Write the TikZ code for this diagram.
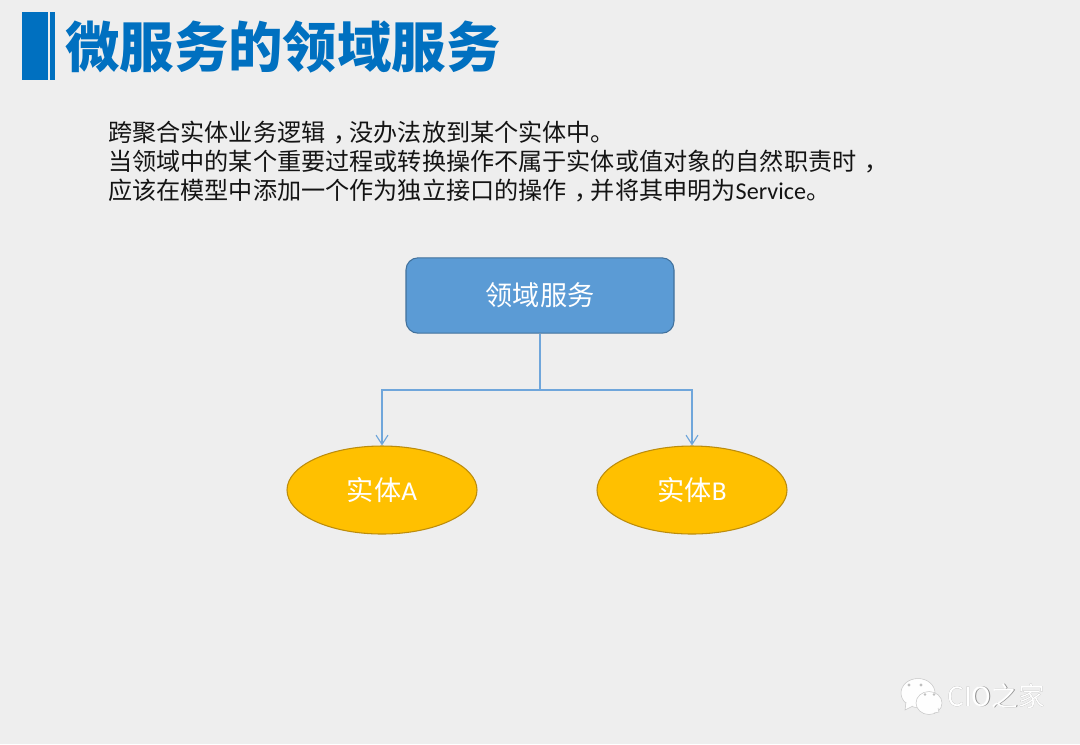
\documentclass[tikz,border=0pt]{standalone}
\usepackage{fontspec}
\usetikzlibrary{shapes.geometric,arrows.meta,calc}
\setmainfont{Noto Sans CJK SC}
\newfontfamily\cjkb{Noto Sans CJK SC Black}
\newfontfamily\lat{Carlito}
\newcommand{\fwc}{\kern.33em\symbol{"FF0C}\kern-.33em}
\definecolor{bgc}{HTML}{EEEEEE}
\definecolor{titleblue}{HTML}{0070C0}
\definecolor{boxblue}{HTML}{5B9BD5}
\definecolor{boxedge}{HTML}{41719C}
\definecolor{gold}{HTML}{FFC000}
\definecolor{goldedge}{HTML}{BC8C0C}
\definecolor{linkblue}{HTML}{6FA6DB}
\tikzset{
  x=0.75pt,y=-0.75pt,
  titletext/.style={anchor=west,inner sep=0pt,text=titleblue,font=\cjkb\fontsize{40.8pt}{44pt}\selectfont},
  bodytext/.style={anchor=north west,inner sep=0pt,align=left,text=black!92,font=\fontsize{18.1pt}{21.6pt}\selectfont},
  svcbox/.style={draw=boxedge,line width=0.8pt,fill=boxblue,rounded corners=9pt,minimum width=201pt,minimum height=56.5pt,inner sep=0pt,text=white,font=\fontsize{20.4pt}{24pt}\selectfont},
  entity/.style={ellipse,draw=goldedge,line width=0.8pt,fill=gold,minimum width=142.5pt,minimum height=66pt,inner sep=0pt,text=white,font=\fontsize{20.4pt}{24pt}\selectfont},
  link/.style={draw=linkblue,line width=0.85pt},
  arrowlink/.style={link,-{Straight Barb[length=7pt,width=9pt,line width=0.85pt]}},
  bubble/.style={fill=white!97!bgc,draw=black!22,line width=0.4pt},
  markstyle/.style={inner sep=0pt,font=\fontsize{20pt}{22pt}\selectfont}
}
\begin{document}
\begin{tikzpicture}
\useasboundingbox (0,0) rectangle (1080,744);
\fill[bgc] (0,0) rectangle (1080,744);
% title bar
\fill[titleblue] (22,12) rectangle (48,80);
\fill[titleblue] (49.5,12) rectangle (55,80);
\node[titletext] (title) at (65,47) {微服务的领域服务};
% body
\node[bodytext] (body) at (108,121) {跨聚合实体业务逻辑\fwc 没办法放到某个实体中。\\当领域中的某个重要过程或转换操作不属于实体或值对象的自然职责时\fwc\\应该在模型中添加一个作为独立接口的操作\fwc 并将其申明为{\lat Service}。};
% nodes
\node[svcbox] (svc) at (540,295.5) {领域服务};
\node[entity] (a) at (382,490) {实体{\lat A}};
\node[entity] (b) at (692,490) {实体{\lat B}};
\coordinate (j) at (540,390);
\draw[link] (svc.south) -- (j);
\draw[arrowlink] (j) -| (a.north);
\draw[arrowlink] (j) -| (b.north);
% watermark
\begin{scope}
\draw[bubble] (918,693) ellipse (17 and 14.5);
\draw[bubble] (906,702) -- (905,710) -- (913,706);
\draw[bubble] (929,703) ellipse (13 and 11.5);
\draw[bubble] (934,713) -- (939,712) -- (938,708);
\fill[black!25] (909,685) circle (1.7) (921,685) circle (1.7) (925,694.5) circle (1.4) (934,694.5) circle (1.4);
\end{scope}
\node[markstyle,text=black!45] (wm2) at (996.5,696.5) {CIO之家};
\node[markstyle,text=white] (wm) at (996,696) {CIO之家};
\end{tikzpicture}
\end{document}
